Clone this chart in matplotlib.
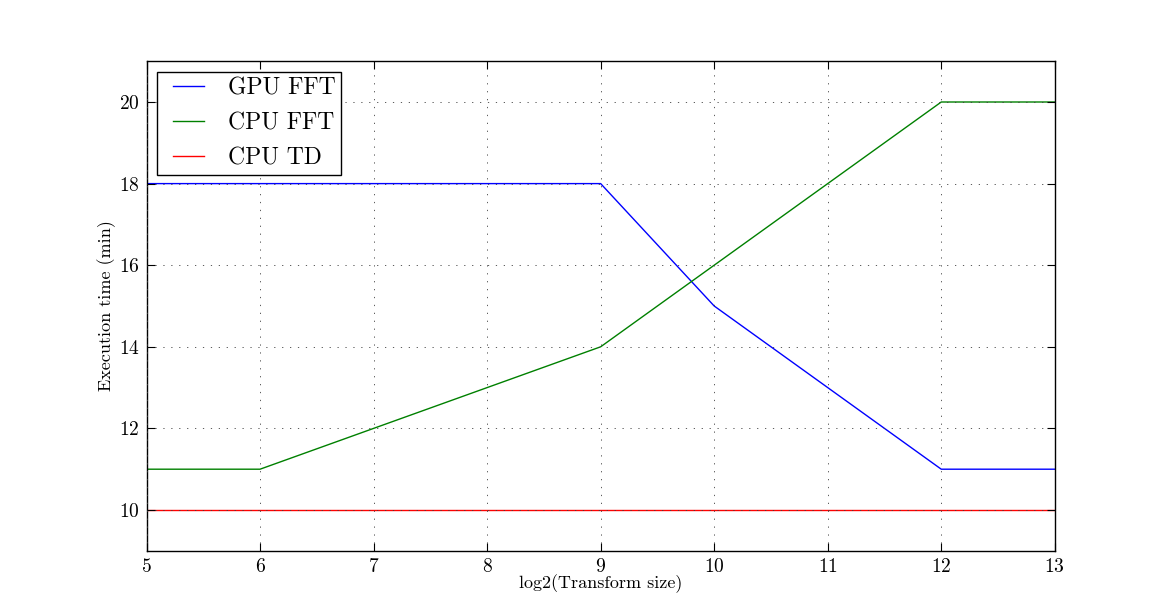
import matplotlib
matplotlib.use("Agg")
import matplotlib.pyplot as plt
from matplotlib.lines import Line2D
from matplotlib.legend_handler import HandlerLine2D

plt.rcParams['font.family'] = 'serif'
plt.rcParams['font.serif'] = ['cmr10']
plt.rcParams['mathtext.fontset'] = 'cm'
plt.rcParams['axes.formatter.use_mathtext'] = True
plt.rcParams['font.size'] = 13

sizes = [5, 6, 7, 8, 9, 10, 11, 12, 13]
gpu_fft = [18, 18, 18, 18, 18, 15, 13, 11, 11]
cpu_fft = [11, 11, 12, 13, 14, 16, 18, 20, 20]
cpu_td = [10, 10, 10, 10, 10, 10, 10, 10, 10]

fig = plt.figure(figsize=(11.72, 6.12), dpi=100)
ax = fig.add_axes([0.125, 0.1, 0.775, 0.8])

ax.plot(sizes, gpu_fft, color='b', lw=1, label='GPU FFT')
ax.plot(sizes, cpu_fft, color='g', lw=1, label='CPU FFT')
ax.plot(sizes, cpu_td, color='r', lw=1, label='CPU TD')

ax.set_xlim(5, 13)
ax.set_ylim(9, 21)
ax.set_yticks([10, 12, 14, 16, 18, 20])
ax.set_xlabel('log2(Transform size)', labelpad=-1)
ax.set_ylabel('Execution time (min)', labelpad=2)

ax.set_axisbelow(False)
ax.grid(True, color='0.25', linestyle=(0, (1.5, 8)), lw=0.6)
ax.tick_params(direction='in', top=True, right=True, length=6, pad=5,
               labelsize=14)
for sp in ax.spines.values():
    sp.set_linewidth(1)

leg = ax.legend(loc='upper left', fancybox=False, fontsize=17,
                handlelength=1.78, handletextpad=1.0, borderpad=0.22,
                labelspacing=0.55, borderaxespad=0.45,
                handler_map={Line2D: HandlerLine2D(xpad=0.45)})
leg.get_frame().set_edgecolor('k')
leg.get_frame().set_linewidth(1)
leg.get_frame().set_alpha(1)

fig.savefig('out.png', dpi=100)
